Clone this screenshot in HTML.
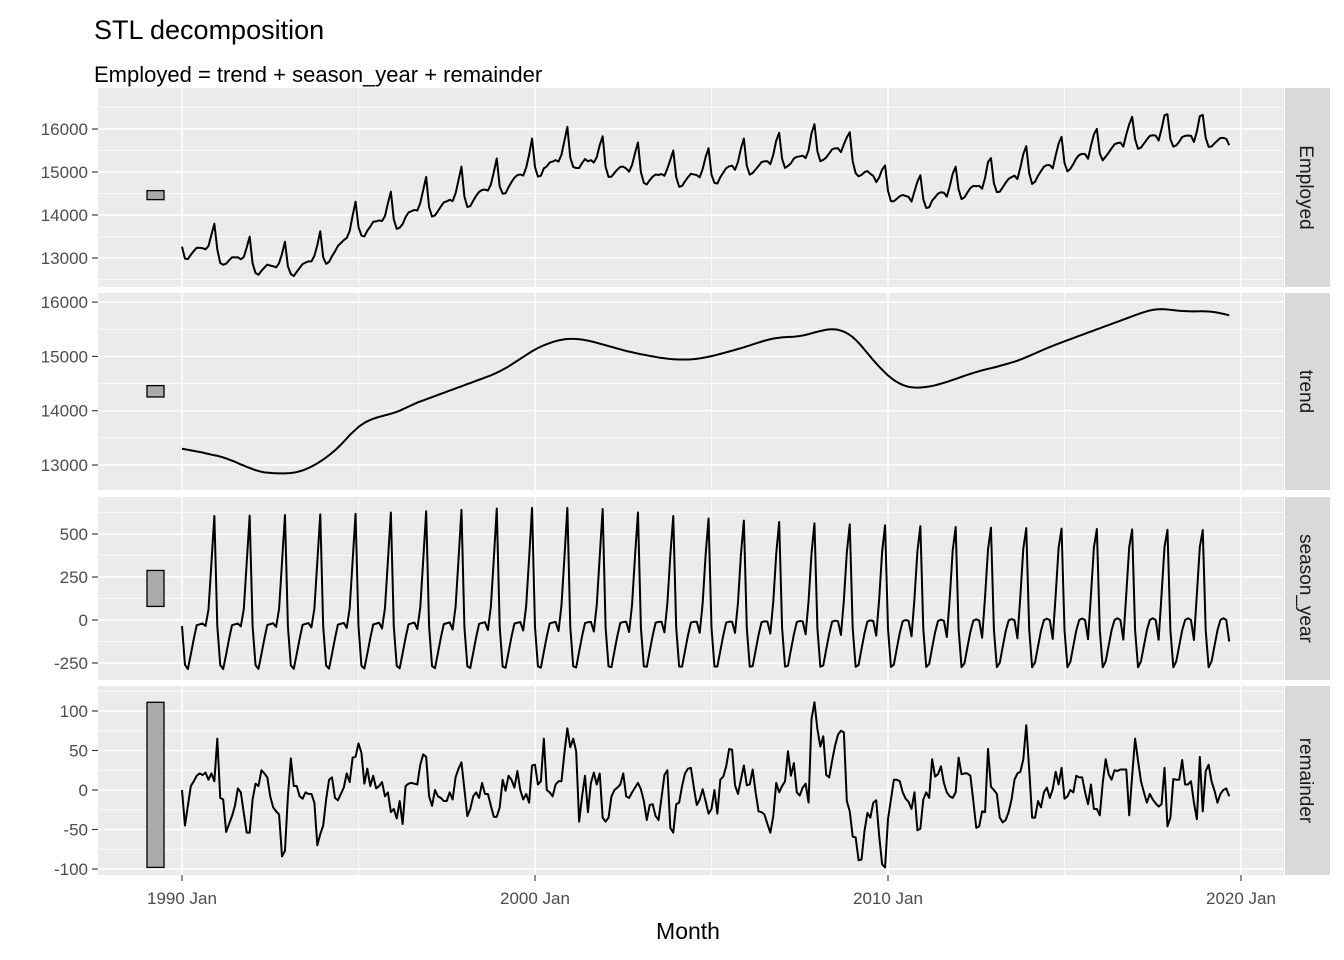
<!DOCTYPE html>
<html><head><meta charset="utf-8"><style>
body{margin:0;background:#fff;}
svg{display:block;font-family:"Liberation Sans",Arial,sans-serif;}
</style></head><body>
<svg id="chart" width="1344" height="960" viewBox="0 0 1344 960" xmlns="http://www.w3.org/2000/svg">
<text x="94" y="39" font-size="27" fill="#000">STL decomposition</text>
<text x="94" y="82" font-size="22" fill="#000">Employed = trend + season_year + remainder</text>
<text x="688" y="939" font-size="23" text-anchor="middle" fill="#000">Month</text>
<g id="panels"></g>
</svg>
<script>
const trendValues = [
13300,13290,13280,13270,13260,13250,13240,13230,13215,13205,13190,13180,
13170,13155,13140,13120,13100,13080,13060,13035,13010,12990,12965,12945,
12925,12905,12890,12875,12865,12860,12855,12850,12848,12846,12845,12845,
12848,12852,12860,12870,12885,12900,12920,12945,12970,13000,13030,13065,
13100,13140,13180,13225,13270,13320,13375,13430,13490,13550,13600,13650,
13700,13740,13775,13805,13830,13850,13870,13885,13900,13915,13930,13945,
13960,13980,14000,14025,14050,14075,14100,14125,14150,14170,14190,14210,
14230,14250,14270,14290,14310,14330,14350,14370,14390,14410,14430,14450,
14470,14490,14510,14530,14550,14570,14590,14610,14630,14650,14675,14700,
14725,14755,14785,14815,14850,14885,14920,14955,14990,15025,15060,15095,
15125,15155,15180,15205,15225,15245,15265,15280,15295,15305,15315,15320,
15322,15322,15320,15316,15310,15300,15290,15278,15265,15250,15235,15220,
15205,15190,15175,15160,15145,15130,15115,15100,15088,15076,15064,15052,
15040,15030,15020,15010,15000,14990,14980,14972,14965,14958,14952,14948,
14945,14943,14942,14942,14943,14946,14950,14956,14963,14972,14982,14993,
15005,15018,15032,15046,15060,15075,15090,15105,15120,15136,15152,15168,
15185,15202,15220,15238,15255,15272,15288,15303,15316,15328,15337,15344,
15350,15355,15358,15360,15363,15368,15375,15385,15397,15410,15425,15440,
15455,15468,15480,15490,15497,15500,15498,15490,15475,15455,15428,15395,
15355,15305,15250,15190,15125,15060,14995,14930,14870,14810,14755,14700,
14650,14605,14565,14530,14500,14475,14455,14440,14432,14428,14426,14428,
14432,14438,14446,14456,14468,14482,14497,14513,14530,14548,14566,14585,
14604,14623,14642,14660,14678,14695,14712,14728,14743,14757,14770,14783,
14796,14810,14825,14840,14855,14870,14886,14903,14922,14942,14963,14985,
15008,15032,15056,15080,15104,15127,15150,15172,15194,15215,15236,15257,
15278,15298,15318,15338,15358,15378,15398,15418,15438,15458,15478,15498,
15518,15538,15558,15578,15598,15618,15638,15658,15678,15698,15718,15738,
15758,15778,15797,15815,15831,15845,15856,15864,15868,15870,15868,15864,
15858,15852,15846,15840,15836,15833,15831,15830,15830,15830,15831,15831,
15830,15827,15822,15815,15806,15795,15783,15770,15757];
const seasonValues = [
-35,-260,-285,-200,-110,-30,-25,-20,-35,60,330,605,
-35,-262,-285,-200,-110,-30,-25,-20,-37,62,333,607,
-36,-263,-284,-199,-109,-29,-24,-19,-40,64,336,610,
-36,-264,-284,-198,-108,-28,-23,-18,-43,66,339,614,
-37,-265,-283,-197,-107,-27,-22,-17,-46,68,342,618,
-37,-266,-282,-196,-106,-26,-21,-16,-49,70,345,625,
-38,-267,-281,-194,-104,-25,-20,-15,-52,73,348,632,
-39,-268,-280,-192,-102,-24,-19,-14,-55,76,352,640,
-40,-269,-279,-190,-100,-22,-17,-13,-58,79,356,648,
-40,-270,-278,-188,-98,-21,-16,-12,-61,82,360,652,
-41,-270,-277,-186,-96,-20,-15,-11,-64,85,364,652,
-42,-270,-276,-184,-94,-18,-13,-11,-67,88,368,645,
-43,-270,-274,-182,-92,-17,-12,-10,-70,92,372,625,
-44,-270,-272,-181,-91,-16,-11,-10,-72,96,376,605,
-45,-270,-271,-180,-90,-15,-10,-10,-74,98,378,590,
-45,-270,-270,-180,-90,-15,-10,-10,-75,100,380,578,
-46,-271,-268,-177,-87,-13,-8,-9,-79,105,384,570,
-47,-271,-266,-174,-84,-12,-6,-8,-83,110,388,562,
-48,-272,-264,-171,-81,-10,-4,-7,-87,115,392,556,
-49,-272,-262,-168,-78,-9,-2,-6,-91,120,396,551,
-50,-273,-259,-165,-75,-7,0,-5,-95,125,400,546,
-52,-273,-256,-162,-72,-6,2,-4,-99,130,405,541,
-54,-274,-252,-159,-69,-4,4,-3,-103,135,410,537,
-56,-274,-249,-156,-66,-3,6,-2,-107,140,415,534,
-57,-275,-246,-153,-63,-1,8,-1,-110,145,420,531,
-58,-275,-243,-151,-61,0,9,0,-112,148,422,529,
-59,-275,-241,-150,-60,0,10,0,-114,150,424,527,
-60,-275,-240,-150,-60,0,10,0,-115,150,425,525,
-60,-275,-240,-150,-60,0,10,0,-116,150,425,523,
-60,-275,-240,-150,-60,0,10,0,-125];
const remainderValues = [
0,-45,-20,5,11,18,21,19,22,13,21,11,
65,-10,-12,-53,-43,-33,-20,2,-3,-29,-54,-54,
-12,8,5,25,21,16,-8,-22,-27,-31,-84,-77,
-8,40,5,5,-8,-11,-3,-5,-5,-16,-70,-56,
-45,-12,13,16,-10,-13,-5,3,21,10,41,42,
59,47,8,27,5,18,2,5,10,-8,-3,-28,
-24,-36,-14,-43,5,8,9,8,7,32,45,42,
-8,-20,0,-8,-10,-14,-14,-3,-12,16,27,35,
1,-33,-24,-8,-3,-10,9,-5,-5,-20,-34,-34,
-22,13,-1,18,13,3,24,0,-12,-5,-16,31,
32,7,11,65,0,-3,-8,7,11,11,47,78,
54,65,49,-40,-8,18,-28,9,22,7,21,-35,
-40,-35,-8,0,3,7,21,-8,-10,-3,3,9,
1,-14,-38,-19,-18,-33,-38,-10,19,25,-48,-54,
-18,-16,5,21,27,28,3,-19,-12,1,-14,-30,
-24,0,-30,13,17,30,52,51,6,-5,13,31,
6,7,26,-3,-27,-28,-31,-43,-54,-33,9,-3,
5,11,49,18,34,-3,-7,3,8,-16,90,111,
77,55,68,19,16,37,56,70,75,73,-14,-27,
-59,-60,-89,-88,-52,-29,-35,-16,-13,-58,-94,-98,
-37,-12,13,13,11,-3,-11,-15,-24,-3,-51,-49,
-12,-3,-10,39,17,20,30,9,-3,-8,-10,-3,
41,20,21,21,18,-14,-48,-46,-27,-28,52,4,
0,-5,-35,-41,-38,-28,-12,13,21,23,39,82,
26,-35,-35,-14,-22,-3,3,-10,1,23,7,28,
-11,-8,0,-3,18,16,16,-3,-18,7,-24,-24,
-32,9,39,20,13,25,24,26,26,26,-32,18,
65,37,11,-3,-16,-5,-12,-17,-21,-18,28,-46,
-35,14,13,13,38,7,7,11,-16,-37,42,-27,
24,32,11,-1,-16,-5,0,2,-8];
const employedValues = trendValues.map((t,i)=>t+seasonValues[i]+remainderValues[i]);
const xTickLabels = ["1990 Jan","2000 Jan","2010 Jan","2020 Jan"];
const xTickYears = [1990,2000,2010,2020];
const employedTicks = [13000,14000,15000,16000];
const trendTicks = [13000,14000,15000,16000];
const seasonTicks = [-250,0,250,500];
const remainderTicks = [-100,-50,0,50,100];

const NS="http://www.w3.org/2000/svg";
const g=document.getElementById('panels');
const X0=98,X1=1284;
function xScale(monthIndex){return 182+(monthIndex/12)*35.3;}
function xYear(y){return 182+(y-1990)*35.3;}
function mk(tag,attrs){const e=document.createElementNS(NS,tag);for(const k in attrs)e.setAttribute(k,attrs[k]);return e;}
const panels=[
 {name:'employed',label:'Employed',top:88,bot:287,data:employedValues,ticks:employedTicks,y:v=>258-(v-13000)*0.043,step:1000},
 {name:'trend',label:'trend',top:293,bot:490,data:trendValues,ticks:trendTicks,y:v=>465-(v-13000)*0.0543,step:1000},
 {name:'season-year',label:'season_year',top:497,bot:680,data:seasonValues,ticks:seasonTicks,y:v=>620-v*0.172,step:250},
 {name:'remainder',label:'remainder',top:686,bot:875,data:remainderValues,ticks:remainderTicks,y:v=>790-v*0.79,step:50}
];
const remRange=Math.max(...remainderValues)-Math.min(...remainderValues);
panels.forEach(p=>{
 const pg=mk('g',{});
 
 
 const bg=mk('rect',{x:X0,y:p.top,width:X1-X0,height:p.bot-p.top,fill:'#ebebeb'});
 
 
 pg.appendChild(bg);
 // minor horizontal gridlines
 const t0=p.ticks[0]-p.step, t1=p.ticks[p.ticks.length-1]+p.step;
 for(let v=t0+p.step/2; v<t1; v+=p.step){
  const yy=p.y(v); if(yy<p.top||yy>p.bot) continue;
  const l=mk('line',{x1:X0,x2:X1,y1:yy,y2:yy,stroke:'#fff','stroke-width':0.7});
  
  
  pg.appendChild(l);
 }
 // minor vertical
 [1995,2005,2015].forEach(yr=>{
  const l=mk('line',{x1:xYear(yr),x2:xYear(yr),y1:p.top,y2:p.bot,stroke:'#fff','stroke-width':0.7});
  
  
  pg.appendChild(l);
 });
 p.ticks.forEach(v=>{
  const yy=p.y(v);
  const l=mk('line',{x1:X0,x2:X1,y1:yy,y2:yy,stroke:'#fff','stroke-width':1.4});
  
  
  pg.appendChild(l);
  const tk=mk('line',{x1:92,x2:98,y1:yy,y2:yy,stroke:'#333','stroke-width':1.1});
  
  
  pg.appendChild(tk);
  const tx=mk('text',{x:88,y:yy+6,'text-anchor':'end','font-size':17,fill:'#4d4d4d'});
  
  
  tx.textContent=String(v);
  pg.appendChild(tx);
 });
 xTickYears.forEach(yr=>{
  const l=mk('line',{x1:xYear(yr),x2:xYear(yr),y1:p.top,y2:p.bot,stroke:'#fff','stroke-width':1.4});
  
  
  pg.appendChild(l);
 });
 // scale bar
 const mn=Math.min(...p.data),mx=Math.max(...p.data),mid=(mn+mx)/2;
 const ya=p.y(mid+remRange/2), yb=p.y(mid-remRange/2);
 const bar=mk('rect',{x:147,y:ya,width:17,height:yb-ya,fill:'#aaaaaa',stroke:'#000','stroke-width':1.3});
 
 
 pg.appendChild(bar);
 // line
 let d='';
 p.data.forEach((v,i)=>{d+=(i?'L':'M')+xScale(i).toFixed(2)+','+p.y(v).toFixed(2);});
 const path=mk('path',{d:d,fill:'none',stroke:'#000','stroke-width':2,'stroke-linejoin':'round'});
 
 
 pg.appendChild(path);
 // strip
 const st=mk('rect',{x:1285,y:p.top,width:45,height:p.bot-p.top,fill:'#d9d9d9'});
 
 
 pg.appendChild(st);
 const cy=(p.top+p.bot)/2;
 const sl=mk('text',{x:1300,y:cy,'text-anchor':'middle','font-size':19,fill:'#1a1a1a',transform:'rotate(90 1300 '+cy+')'});
 
 
 sl.textContent=p.label;
 pg.appendChild(sl);
 g.appendChild(pg);
});
xTickYears.forEach((yr,i)=>{
 const xx=xYear(yr);
 const tk=mk('line',{x1:xx,x2:xx,y1:875,y2:881,stroke:'#333','stroke-width':1.1});
 
 
 g.appendChild(tk);
 const tx=mk('text',{x:xx,y:904,'text-anchor':'middle','font-size':17,fill:'#4d4d4d'});
 
 
 tx.textContent=xTickLabels[i];
 g.appendChild(tx);
});
</script>
</body></html>
